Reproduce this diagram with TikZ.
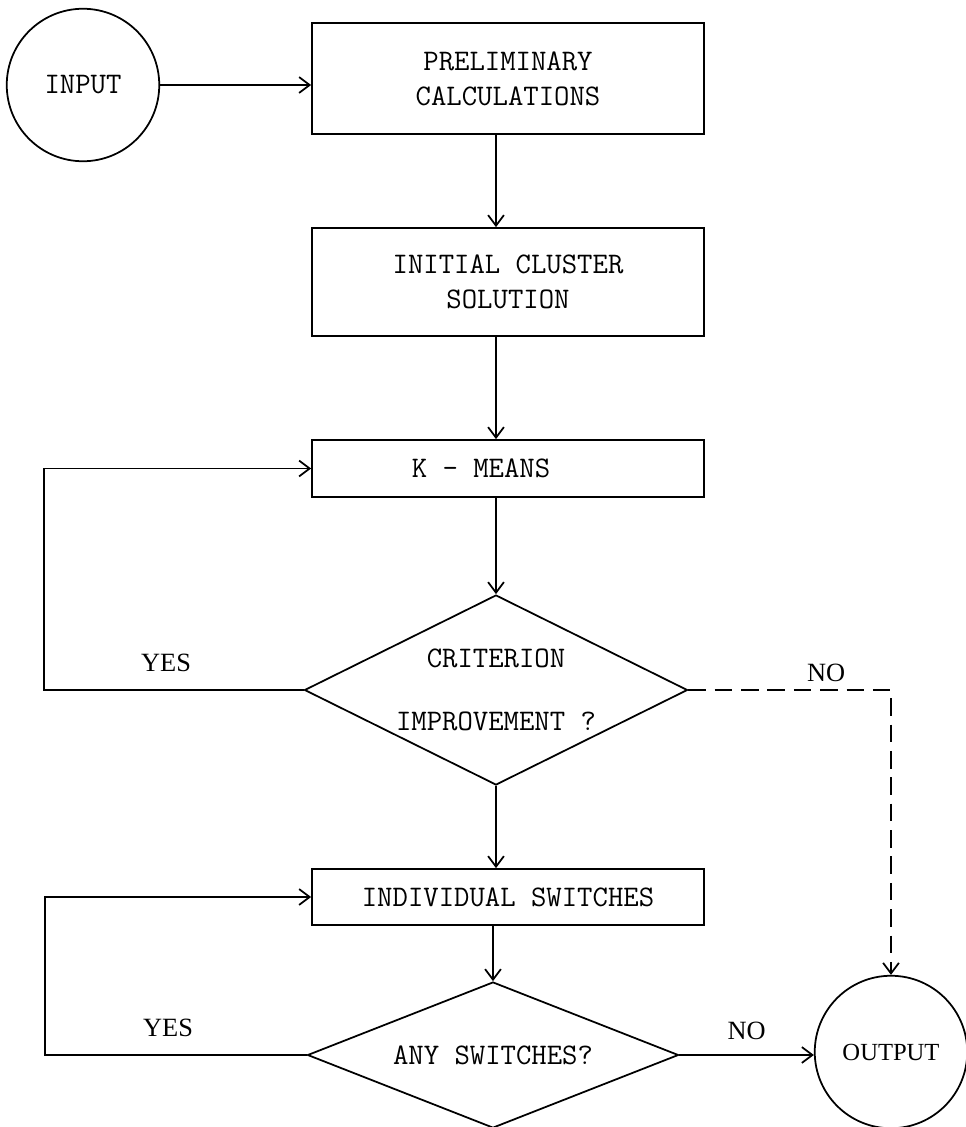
\documentclass[tikz,border=0pt]{standalone}
\usepackage{fontspec}
\setmainfont{Liberation Serif}
\usetikzlibrary{arrows.meta,shapes.geometric}

\begin{document}
\begin{tikzpicture}[
  node distance=4cm,
  box/.style={
    draw,
    line width=1pt,
    align=center,
    inner sep=0pt,
    minimum width=7.84cm,
    font=\ttfamily\fontsize{17}{20}\selectfont
  },
  decision/.style={
    draw,
    diamond,
    aspect=2,
    line width=1pt,
    align=center,
    inner sep=-4pt,
    font=\ttfamily\fontsize{17}{20}\selectfont
  },
  term/.style={draw, circle, line width=1pt, inner sep=0pt, minimum size=3.05cm},
  lbl/.style={font=\fontsize{15}{18}\selectfont, inner sep=2pt},
  arrow/.style={-{Straight Barb[length=6pt,width=9pt]}, line width=1pt},
  dasharrow/.style={arrow, dash pattern=on 10pt off 5pt}
]
\useasboundingbox (0,0) rectangle (19.32,-22.54);

\node[box, minimum height=2.22cm] (prelim) at (10.16,-1.57) {PRELIMINARY\\CALCULATIONS};
\node[term, font=\ttfamily\fontsize{17}{20}\selectfont] (input) [node distance=8.5cm, left of=prelim, yshift=-0.13cm] {INPUT};
\node[box, minimum height=2.16cm] (init) [below of=prelim, yshift=-0.07cm] {INITIAL CLUSTER\\SOLUTION};
\node[box, minimum height=1.14cm] (kmeans) [below of=init, yshift=0.27cm] {K - MEANS\hspace*{1.08cm}};
\node[decision, minimum width=7.66cm, minimum height=3.8cm] (crit) [below of=kmeans, xshift=-0.24cm, yshift=-0.43cm] {CRITERION\\[16pt]IMPROVEMENT ?};
\node[box, minimum height=1.12cm] (indiv) [below of=crit, xshift=0.24cm, yshift=-0.14cm] {INDIVIDUAL SWITCHES};
\node[decision, minimum width=7.42cm, minimum height=2.92cm] (any) [below of=indiv, xshift=-0.3cm, yshift=0.84cm] {ANY SWITCHES?};
\node[term, font=\fontsize{14}{17}\selectfont] (output) [node distance=7.96cm, right of=any, yshift=0.06cm] {OUTPUT};

\draw[arrow] (input.east) -- (input.east -| prelim.west);
\draw[arrow] (prelim.south -| crit.north) -- (init.north -| crit.north);
\draw[arrow] (init.south -| crit.north) -- (kmeans.north -| crit.north);
\draw[arrow] (kmeans.south -| crit.north) -- (crit.north);
\draw[arrow] (crit.south) -- (crit.south |- indiv.north);
\draw[arrow] (indiv.south -| any.north) -- (any.north);

% loops back
\draw[arrow] (crit.west) -- node[lbl, above=8pt, pos=0.53] (yes1) {YES} ++(-5.19,0) |- (kmeans.west);
\draw[arrow] (any.west) -- node[lbl, above=8pt, pos=0.53] (yes2) {YES} ++(-5.23,0) |- (indiv.west);

% exits
\draw[dasharrow] (crit.east) -| node[lbl, above=2pt, pos=0.34] (no1) {NO} (output.north);
\draw[arrow] (any.east) -- node[lbl, above=6pt] (no2) {NO} (any.east -| output.west);
\end{tikzpicture}
\end{document}
